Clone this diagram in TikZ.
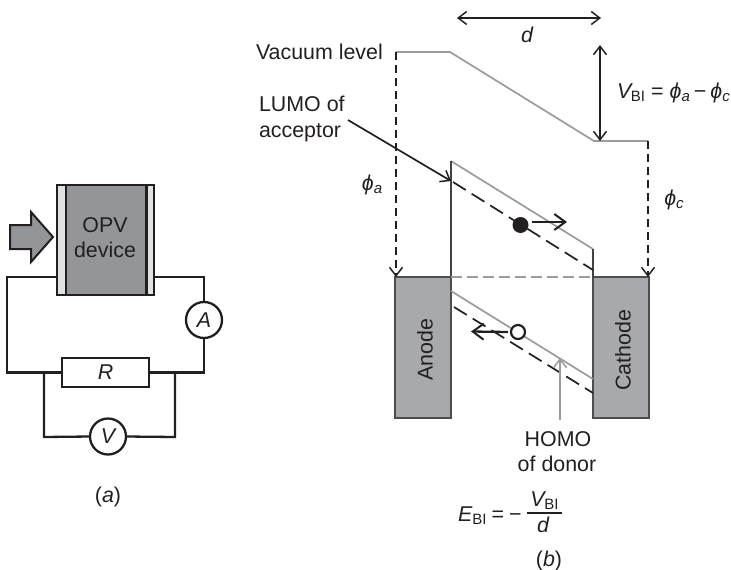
\documentclass[tikz,border=0pt]{standalone}
\usepackage{fontspec}
\setmainfont{Liberation Sans}
\usetikzlibrary{arrows.meta}
\definecolor{ink}{HTML}{231F20}
\definecolor{devgray}{HTML}{939598}
\definecolor{elecgray}{HTML}{A7A9AC}
\definecolor{linegray}{HTML}{9A9B9E}
\definecolor{strip}{HTML}{E0E1E2}
\newcommand{\subt}[1]{\raisebox{-3.5pt}{\fontsize{15}{15}\selectfont #1}}
\newcommand{\phisym}{{\itshape ϕ}}
\tikzset{
  every node/.style={text=ink,font=\fontsize{21.4}{26}\selectfont,inner sep=0pt,outer sep=0pt},
  wire/.style={draw=ink,line width=2.3pt},
  meter/.style={circle,draw=ink,line width=2.3pt,fill=white,minimum size=36pt},
  thinarrow/.style={draw=ink,line width=1.7pt,-{Straight Barb[length=8.5pt,width=13pt,line width=1.5pt]}},
  bothways/.style={draw=ink,line width=1.7pt,{Straight Barb[length=8.5pt,width=13pt,line width=1.5pt]}-{Straight Barb[length=8.5pt,width=13pt,line width=1.5pt]}},
  heavyarrow/.style={draw=ink,line width=2.3pt,-{Straight Barb[length=11pt,width=16pt,line width=2pt]}},
  grayarrow/.style={draw=linegray,line width=1.7pt,-{Straight Barb[length=8.5pt,width=13pt,line width=1.5pt]}},
  dashdrop/.style={draw=ink,line width=1.7pt,dash pattern=on 8pt off 5pt,-{Straight Barb[length=8.5pt,width=13pt,line width=1.5pt]}},
  band/.style={draw=linegray,line width=1.7pt},
  stepwall/.style={draw=ink!85,line width=1.7pt},
  dashband/.style={draw=ink,line width=1.7pt,dash pattern=on 15pt off 7pt},
  electrode/.style={draw=ink!80,line width=1.1pt,fill=elecgray},
  lefttext/.style={anchor=base west},
  midtext/.style={anchor=base},
}
\begin{document}
\begin{tikzpicture}[x=1pt,y=-1pt]
\useasboundingbox (0,0) rectangle (731,570);
% ---------- (a) circuit ----------
\node[draw=ink,line width=2pt,fill=devgray,minimum width=97pt,minimum height=110pt] (dev) at (105.5,240) {};
\fill[strip] (58,186) rectangle (65.5,294);
\fill[strip] (148,186) rectangle (153,294);
\draw[ink,line width=1.3pt] (66,185) -- (66,295);
\draw[ink,line width=3pt] (146.5,185) -- (146.5,295);
\node[midtext] (opv) at (105,232) {OPV};
\node[midtext] (devtxt) at (105,257) {device};
\draw[line width=2pt,draw=ink,fill=devgray,line join=miter]
  (10,225) -- (31,225) -- (31,212) -- (53,237) -- (31,262) -- (31,249) -- (10,249) -- cycle;
\node[meter] (amm) at (204,320) {\itshape A};
\node[rectangle,draw=ink,line width=2.3pt,fill=white,minimum width=87pt,minimum height=29pt] (res) at (105.5,372.5) {\itshape R};
\node[meter] (vol) at (108,436.5) {\itshape V};
\coordinate (lead) at (57,277);
\coordinate (rlead) at (154,277);
\draw[wire,line join=miter] (lead) -- (7,277) -- (7,372.5) -- (res.west);
\draw[wire,line join=miter] (rlead) -- (204,277) -- (amm.north);
\draw[wire,line join=miter] (amm.south) -- (204,372.5) -- (res.east);
\draw[wire,line join=miter] (44,372.5) -- (44,437) -- (vol.west);
\draw[wire,line join=miter] (175,372.5) -- (175,437) -- (vol.east);
\node[midtext] (capa) at (108,502) {(\textit{a})};
% ---------- (b) band diagram ----------
\node[electrode,minimum width=56pt,minimum height=141pt] (anode) at (423,347.5) {};
\node[electrode,minimum width=56pt,minimum height=141pt] (cathode) at (621,347.5) {};
\node[rotate=90] (anodetxt) at (425,350) {Anode};
\node[rotate=90] (cathodetxt) at (623,350) {Cathode};
\coordinate (vacA) at (396,52);
\coordinate (vacB) at (450,52);
\coordinate (vacC) at (594,141);
\coordinate (vacD) at (648,141);
\draw[band,line join=round] (vacA) -- (vacB) -- (vacC) -- (vacD);
\coordinate (anTop) at (396,277);
\coordinate (caTop) at (648,277);
\draw[dashdrop] (vacA) -- (anTop);
\draw[dashdrop] (vacD) -- (caTop);
\coordinate (lumoTL) at (451,161);
\coordinate (lumoTR) at (593,249);
\coordinate (wallL) at (451,277);
\coordinate (wallR) at (593,277);
\draw[band] (lumoTL) -- (lumoTR);
\draw[stepwall] (lumoTL) -- (wallL);
\draw[stepwall] (lumoTR) -- (wallR);
\coordinate (lumoL) at (453,182);
\coordinate (lumoR) at (593,270);
\draw[dashband] (lumoL) -- (lumoR);
\draw[draw=linegray,line width=1.5pt,dash pattern=on 11pt off 5pt] (wallL) -- (wallR);
\coordinate (homoTL) at (451,291);
\coordinate (homoTR) at (593,379);
\draw[band] (homoTL) -- (homoTR);
\coordinate (homoL) at (454,307);
\coordinate (homoR) at (593,393);
\draw[dashband] (homoL) -- (homoR);
\node[circle,fill=ink,minimum size=16pt] (elec) at (520.5,225) {};
\coordinate (elecEnd) at (567,222);
\draw[heavyarrow] (532,222) -- (elecEnd);
\node[circle,draw=ink,line width=2.2pt,fill=white,minimum size=14pt] (hole) at (518,332) {};
\coordinate (holeEnd) at (471,331.5);
\draw[heavyarrow] (hole.west) ++(-3,0) -- (holeEnd);
\node[midtext] (homotxt) at (558,446) {HOMO};
\node[midtext] (donortxt) at (557,471) {of donor};
\draw[grayarrow] (560,420) -- (560,358);
\node[lefttext] (vactxt) at (256,59) {Vacuum level};
\node[lefttext] (lumotxt) at (259,111) {LUMO of};
\node[lefttext] (acctxt) at (259,137) {acceptor};
\coordinate (lumoStart) at (348,120);
\coordinate (lumoEnd) at (451,181);
\draw[thinarrow] (lumoStart) -- (lumoEnd);
\coordinate (dL) at (457,18);
\coordinate (dR) at (601,18);
\draw[bothways] (dL) -- (dR);
\node[midtext] (dtxt) at (527,42) {\itshape d};
\coordinate (vTop) at (600,45);
\coordinate (vBot) at (600,141);
\draw[bothways] (vTop) -- (vBot);
\node[lefttext] (vbi) at (617,98) {\textit{V}\hspace{-2pt}\subt{BI}\hspace{6pt}=\hspace{6pt}\phisym\subt{\itshape a}\hspace{4pt}−\hspace{4pt}\phisym\subt{\itshape c}};
\node[midtext] (phia) at (372,190) {\phisym\subt{\itshape a}};
\node[midtext] (phic) at (674,205) {\phisym\subt{\itshape c}};
\node[lefttext] (ebi) at (458,521) {\textit{E}\subt{BI}\hspace{5pt}=\hspace{5pt}−};
\node[midtext] (fracn) at (544.5,506) {\textit{V}\hspace{-2pt}\subt{BI}};
\node[midtext] (fracd) at (543,532) {\itshape d};
\coordinate (barL) at (527,513);
\coordinate (barR) at (562,513);
\draw[ink,line width=1.1pt] (barL) -- (barR);
\node[midtext] (capb) at (549,566) {(\textit{b})};
\end{tikzpicture}
\end{document}
